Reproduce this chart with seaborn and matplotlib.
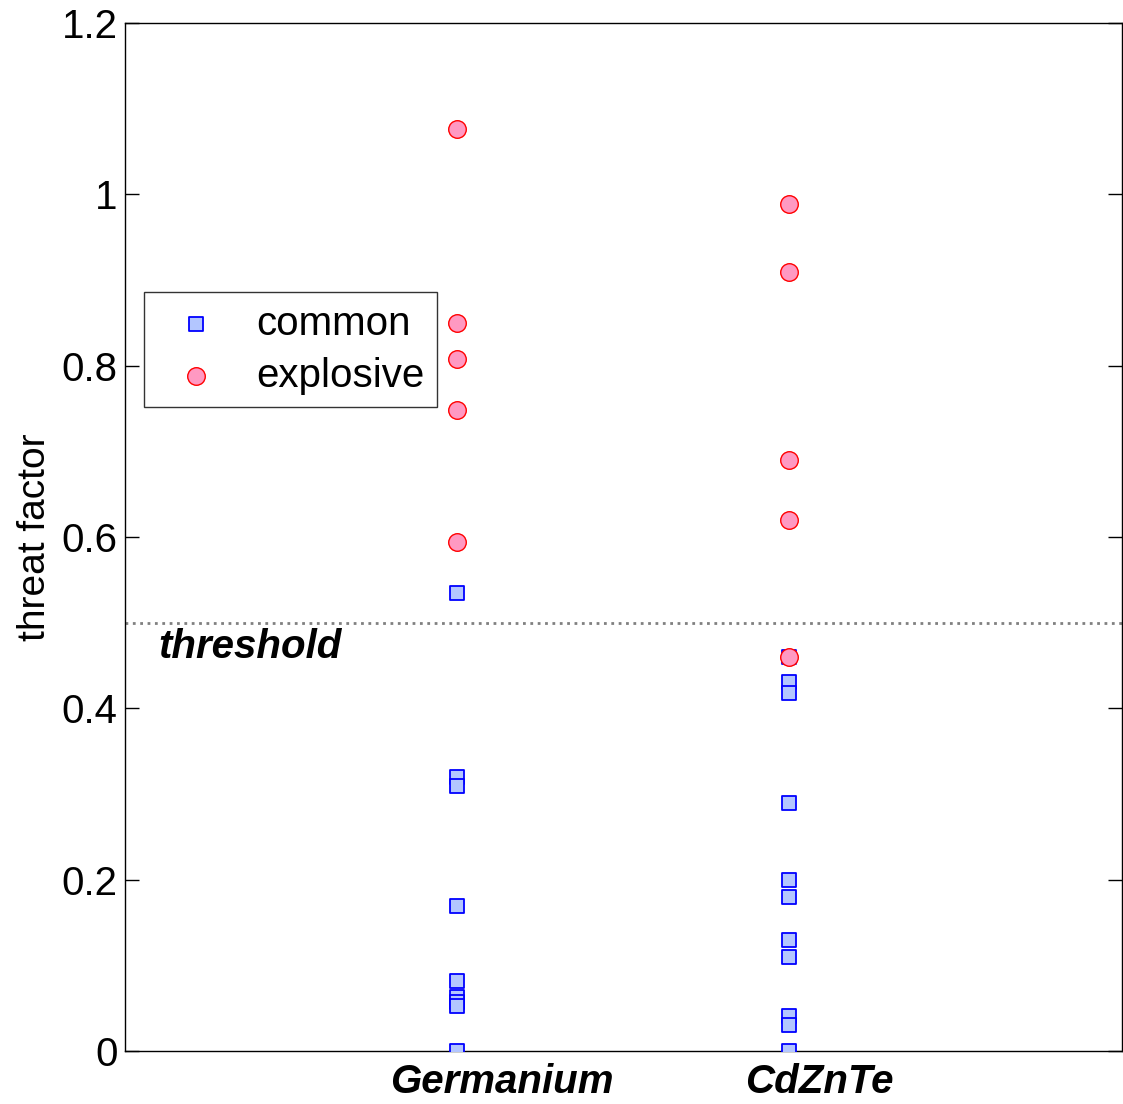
import numpy as np
import pandas as pd
import matplotlib
matplotlib.use("Agg")
import matplotlib.pyplot as plt
from matplotlib.ticker import FuncFormatter
import seaborn as sns

# --- data ---
materials = ["Germanium", "CdZnTe"]
label_x = [1.135, 2.09]  # labels sit a bit right of the data columns
ge_common = [0.535, 0.320, 0.309, 0.169, 0.082, 0.063, 0.057, 0.053, 0.0]
ge_explosive = [1.077, 0.850, 0.808, 0.748, 0.594]
czt_common = [0.46, 0.431, 0.418, 0.290, 0.200, 0.180, 0.130, 0.110, 0.041, 0.030, 0.0]
czt_explosive = [0.989, 0.909, 0.690, 0.620, 0.460]
threshold = 0.5
y_ticks = [0, 0.2, 0.4, 0.6, 0.8, 1.0, 1.2]

common = pd.DataFrame({
    "pos": [1] * len(ge_common) + [2] * len(czt_common),
    "threat": ge_common + czt_common,
})
explosive = pd.DataFrame({
    "pos": [1] * len(ge_explosive) + [2] * len(czt_explosive),
    "threat": ge_explosive + czt_explosive,
})

sns.set_style("ticks")
plt.rcParams["font.family"] = ["Liberation Sans", "DejaVu Sans"]
plt.rcParams["text.color"] = "black"
plt.rcParams["axes.labelcolor"] = "black"
plt.rcParams["xtick.color"] = "black"
plt.rcParams["ytick.color"] = "black"

fig = plt.figure(figsize=(11.23, 11.04), dpi=100)
ax = fig.add_axes([0.111, 0.048, 0.888, 0.931])

sns.scatterplot(data=common, x="pos", y="threat", marker="s", s=95,
                color="#b3c6ff", edgecolor="#0000ff", linewidth=1.3,
                label="common", ax=ax, zorder=3)
sns.scatterplot(data=explosive, x="pos", y="threat", marker="o", s=160,
                color="#ff99c2", edgecolor="#ff0000", linewidth=1.0,
                label="explosive", ax=ax, zorder=4)

ax.axhline(threshold, color="#808080", ls=":", lw=2, zorder=1)
ax.text(0.1, 0.472, "threshold", fontsize=29, fontweight="bold",
        style="italic", va="center", ha="left")

ax.set_xlim(0, 3)
ax.set_ylim(0, 1.2)
ax.set_yticks(y_ticks)
ax.yaxis.set_major_formatter(FuncFormatter(lambda v, p: f"{v:g}"))
ax.set_xticks([])
for xl, name in zip(label_x, materials):
    ax.text(xl, -0.012, name, transform=ax.get_xaxis_transform(),
            fontsize=29, fontweight="bold", style="italic",
            ha="center", va="top")
ax.tick_params(axis="y", direction="in", length=10, labelsize=29,
               right=True, left=True, width=1, pad=5)
ax.set_xlabel("")
ax.set_ylabel("threat factor", fontsize=28, labelpad=6)

for sp in ax.spines.values():
    sp.set_visible(True)
    sp.set_linewidth(1.0)
    sp.set_color("black")

leg = ax.legend(loc="upper left", bbox_to_anchor=(0.019, 0.738),
                borderaxespad=0, fontsize=29, frameon=True, fancybox=False,
                handletextpad=0.5, borderpad=0.3, labelspacing=0.35,
                handlelength=2.0)
leg.get_frame().set_edgecolor("black")
leg.get_frame().set_linewidth(1.0)

fig.savefig("out.png", dpi=100)
